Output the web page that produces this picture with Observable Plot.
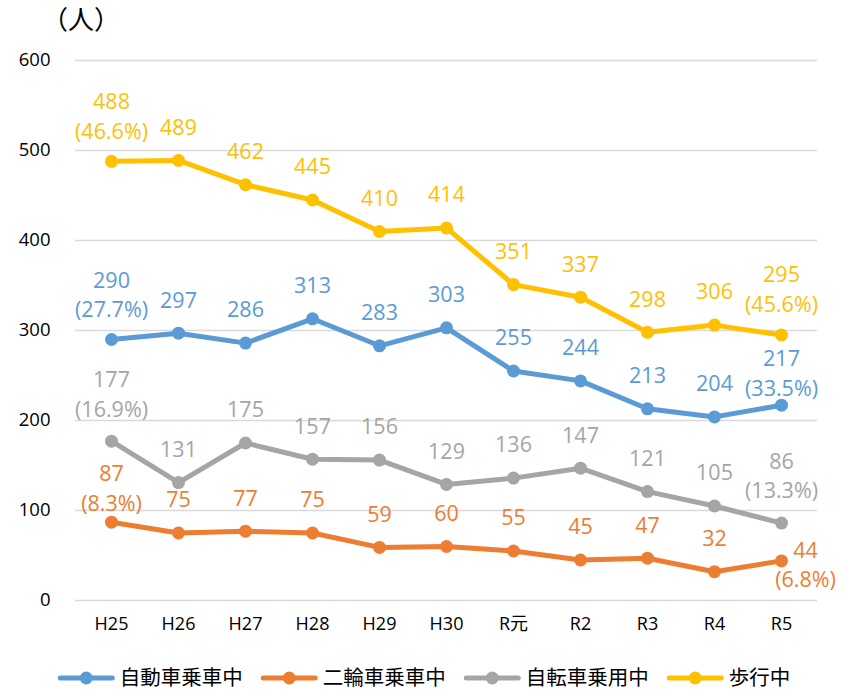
<!DOCTYPE html>
<html>
<head>
<meta charset="utf-8">
<script src="https://cdn.jsdelivr.net/npm/d3@7"></script>
<script src="https://cdn.jsdelivr.net/npm/@observablehq/plot@0.6"></script>
<style>
  html, body { margin: 0; background: #fff; overflow: hidden; }
  #wrap { position: relative; width: 848px; height: 689px; font-family: "Open Sans", "Noto Sans CJK JP", sans-serif; }
  #unit { position: absolute; left: 42px; top: 0px; font-size: 26px; line-height: 36px; color: #000; font-family: "Noto Sans CJK JP", sans-serif; white-space: nowrap; }
  #chart { position: absolute; left: 0; top: 0; }
  #legend { position: absolute; left: 0; top: 662px; width: 848px; height: 27px; }
</style>
</head>
<body>
<div id="wrap">
  <div id="chart"></div>
  <div id="unit">（人）</div>
  <div id="legend"></div>
</div>
<script>
// ---- data ----
const categories = ["H25", "H26", "H27", "H28", "H29", "H30", "R元", "R2", "R3", "R4", "R5"];
const seriesNames = ["自動車乗車中", "二輪車乗車中", "自転車乗用中", "歩行中"];
const car  = [290, 297, 286, 313, 283, 303, 255, 244, 213, 204, 217];
const moto = [87, 75, 77, 75, 59, 60, 55, 45, 47, 32, 44];
const bike = [177, 131, 175, 157, 156, 129, 136, 147, 121, 105, 86];
const walk = [488, 489, 462, 445, 410, 414, 351, 337, 298, 306, 295];
const shareH25 = [27.7, 8.3, 16.9, 46.6]; // % share in first year, by series
const shareR5  = [33.5, 6.8, 13.3, 45.6]; // % share in last year, by series
const yTicks = [0, 100, 200, 300, 400, 500, 600];
const colors = ["#5B9BD5", "#ED7D31", "#A5A5A5", "#FFC000"];

// ---- label layout (pixel offsets for the two-line share labels) ----
const shareLabelLayout = {
  "H25": [{dx: 0, dy: -46.5}, {dx: 0, dy: -36}, {dx: 0, dy: -49}, {dx: 0, dy: -46.5}],
  "R5":  [{dx: 0, dy: -34}, {dx: 24, dy: 2}, {dx: 0, dy: -49}, {dx: 0, dy: -47.5}]
};

const allSeries = [car, moto, bike, walk];
const rows = [];
seriesNames.forEach((s, si) => {
  allSeries[si].forEach((v, ci) => rows.push({series: s, si, cat: categories[ci], ci, value: v}));
});

const plainRows = rows.filter(d => d.cat !== "H25" && d.cat !== "R5");
const shareRows = rows.filter(d => d.cat === "H25" || d.cat === "R5").map(d => {
  const pct = d.cat === "H25" ? shareH25[d.si] : shareR5[d.si];
  const lay = shareLabelLayout[d.cat][d.si];
  return {...d, label: `${d.value}\n(${pct.toFixed(1)}%)`, dx: lay.dx, dy: lay.dy};
});

const font = `"Open Sans", "Noto Sans CJK JP", sans-serif`;

const marks = [
  Plot.gridY(yTicks, {stroke: "#d9d9d9", strokeOpacity: 1, strokeWidth: 1.5}),
  Plot.axisY(yTicks, {tickSize: 0, tickPadding: 25, label: null, fontSize: 18.5}),
  Plot.axisX({tickSize: 0, tickPadding: 17, label: null, fontSize: 18}),
  Plot.line(rows, {x: "cat", y: "value", z: "series", stroke: "series", strokeWidth: 5, strokeLinejoin: "round", strokeLinecap: "round"}),
  Plot.dot(rows, {x: "cat", y: "value", fill: "series", r: 6.5, stroke: "none"}),
  Plot.text(plainRows, {x: "cat", y: "value", text: d => String(d.value), fill: "series", dy: -32.5, fontSize: 21.5, lineAnchor: "middle"})
];
shareRows.forEach(d => {
  marks.push(Plot.text([d], {x: "cat", y: "value", text: "label", fill: "series", dx: d.dx, dy: d.dy, fontSize: 21.5, lineAnchor: "middle", lineHeight: 1.38}));
});

const chart = Plot.plot({
  width: 848,
  height: 650,
  marginLeft: 75,
  marginRight: 31,
  marginTop: 60,
  marginBottom: 50,
  style: {fontFamily: font, fontSize: "18px", color: "#000", background: "transparent"},
  x: {type: "point", domain: categories, padding: 0.5, axis: null},
  y: {domain: [0, 600], axis: null},
  color: {domain: seriesNames, range: colors},
  marks
});
document.getElementById("chart").appendChild(chart);

// ---- legend (SVG, centred) ----
const swatchW = 57, textGap = 5, itemGap = 18, cy = 16;
const lsvg = d3.select("#legend").append("svg").attr("width", 848).attr("height", 27)
  .style("font-family", `"Noto Sans CJK JP", sans-serif`).style("font-size", "20.5px");
const groups = seriesNames.map((s, i) => {
  const g = lsvg.append("g");
  g.append("line").attr("x1", 2.5).attr("x2", swatchW - 2.5).attr("y1", cy).attr("y2", cy)
    .attr("stroke", colors[i]).attr("stroke-width", 5).attr("stroke-linecap", "round");
  g.append("circle").attr("cx", swatchW / 2).attr("cy", cy).attr("r", 6.5).attr("fill", colors[i]);
  const t = g.append("text").attr("x", swatchW + textGap).attr("y", cy).attr("dy", "0.36em").attr("fill", "#000").text(s);
  return {g, w: swatchW + textGap + t.node().getComputedTextLength()};
});
const total = d3.sum(groups, d => d.w) + itemGap * (groups.length - 1);
let x0 = (848 - total) / 2;
groups.forEach(d => { d.g.attr("transform", `translate(${x0},0)`); x0 += d.w + itemGap; });
</script>
</body>
</html>
